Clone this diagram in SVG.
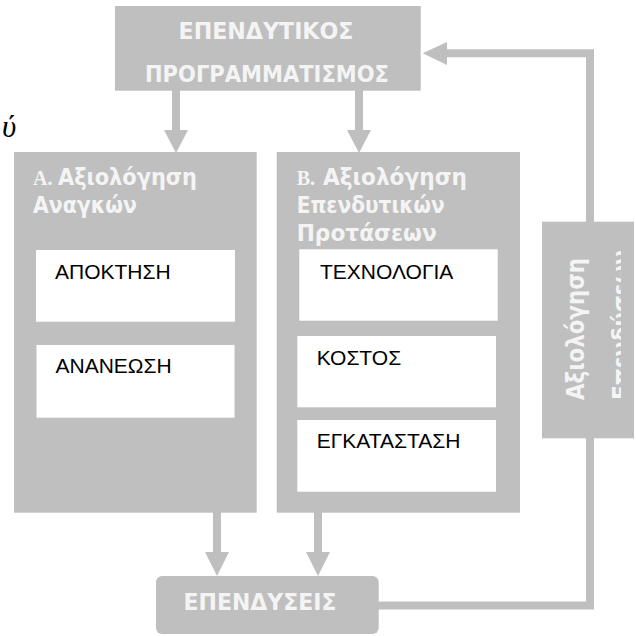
<svg xmlns="http://www.w3.org/2000/svg" width="636" height="636" viewBox="0 0 636 636">
<defs>
<style>
.g{fill:#bfbfbf}
.w{fill:#ffffff}
.hd{font-family:"DejaVu Sans Condensed","DejaVu Sans",sans-serif;font-stretch:condensed;font-weight:bold;fill:#f4f4f4}
.sf{font-family:"Liberation Serif","Times New Roman",serif;font-weight:bold;fill:#f4f4f4}
.it{font-family:"Liberation Sans",Arial,sans-serif;font-size:21px;fill:#000}
.cl{fill:none;stroke:#bfbfbf;stroke-width:8}
</style>
<clipPath id="clipR"><rect x="542" y="221.7" width="79" height="216.6"/></clipPath>
</defs>
<rect width="636" height="636" fill="#ffffff"/>
<text x="2" y="137" font-family="Liberation Serif,serif" font-style="italic" font-size="31" fill="#000">ύ</text>
<g id="connectors">
<line class="cl" x1="176" y1="90" x2="176" y2="131"/>
<polygon class="g" points="164,130 188,130 176,153"/>
<line class="cl" x1="359" y1="90" x2="359" y2="131"/>
<polygon class="g" points="347,130 371,130 359,153"/>
<line class="cl" x1="217" y1="512" x2="217" y2="553"/>
<polygon class="g" points="205,552 229,552 217,576"/>
<line class="cl" x1="318" y1="512" x2="318" y2="553"/>
<polygon class="g" points="306,552 330,552 318,576"/>
<polyline class="cl" points="378,605.5 590,605.5 590,53.3 445,53.3"/>
<polygon class="g" points="447,42 447,65 422.7,53.3"/>
</g>
<g id="top">
<rect class="g" x="115" y="6" width="305.7" height="84.7"/>
<text class="hd" x="266" y="39" font-size="23" text-anchor="middle" textLength="175" lengthAdjust="spacingAndGlyphs">ΕΠΕΝΔΥΤΙΚΟΣ</text>
<text class="hd" x="267" y="82" font-size="23" text-anchor="middle" textLength="244" lengthAdjust="spacingAndGlyphs">ΠΡΟΓΡΑΜΜΑΤΙΣΜΟΣ</text>
</g>
<g id="panelA">
<rect class="g" x="14" y="152" width="242.7" height="360.7"/>
<text class="sf" x="33" y="185" font-size="20">Α.</text>
<text class="hd" x="58" y="185" font-size="23" textLength="139" lengthAdjust="spacingAndGlyphs">Αξιολόγηση</text>
<text class="hd" x="33" y="213" font-size="23" textLength="104" lengthAdjust="spacingAndGlyphs">Αναγκών</text>
<g id="apoktisi">
<rect class="w" x="36" y="250" width="199" height="71.7"/>
<text class="it" x="55" y="279.3">ΑΠΟΚΤΗΣΗ</text>
</g>
<g id="ananeosi">
<rect class="w" x="36.5" y="345" width="198" height="72.7"/>
<text class="it" x="55.5" y="373.3">ΑΝΑΝΕΩΣΗ</text>
</g>
</g>
<g id="panelB">
<rect class="g" x="276.7" y="152" width="243.3" height="360.7"/>
<text class="sf" x="296.7" y="185" font-size="20">Β.</text>
<text class="hd" x="323" y="185" font-size="23" textLength="144" lengthAdjust="spacingAndGlyphs">Αξιολόγηση</text>
<text class="hd" x="296.7" y="213" font-size="23" textLength="148" lengthAdjust="spacingAndGlyphs">Επενδυτικών</text>
<text class="hd" x="296.7" y="240.7" font-size="23" textLength="140" lengthAdjust="spacingAndGlyphs">Προτάσεων</text>
<g id="texnologia">
<rect class="w" x="299.3" y="249.3" width="198.4" height="71.4"/>
<text class="it" x="320" y="279.3">ΤΕΧΝΟΛΟΓΙΑ</text>
</g>
<g id="kostos">
<rect class="w" x="297.3" y="336" width="198.7" height="71.3"/>
<text class="it" x="316.7" y="365">ΚΟΣΤΟΣ</text>
</g>
<g id="egkatastasi">
<rect class="w" x="297.3" y="420" width="198.7" height="71.7"/>
<text class="it" x="316.7" y="448.3">ΕΓΚΑΤΑΣΤΑΣΗ</text>
</g>
</g>
<g id="axiologisi">
<rect class="g" x="542" y="221.7" width="92" height="216.6"/>
<text class="hd" font-size="24" transform="translate(584,400) rotate(-90)" textLength="142" lengthAdjust="spacingAndGlyphs">Αξιολόγηση</text>
<g clip-path="url(#clipR)">
<text class="hd" font-size="24" transform="translate(630,400) rotate(-90)" textLength="150" lengthAdjust="spacingAndGlyphs">Επενδύσεων</text>
</g>
</g>
<g id="ependyseis">
<rect class="g" x="156" y="576" width="222.7" height="58" rx="6"/>
<text class="hd" x="260" y="610" font-size="23" text-anchor="middle" textLength="153" lengthAdjust="spacingAndGlyphs">ΕΠΕΝΔΥΣΕΙΣ</text>
</g>
</svg>
